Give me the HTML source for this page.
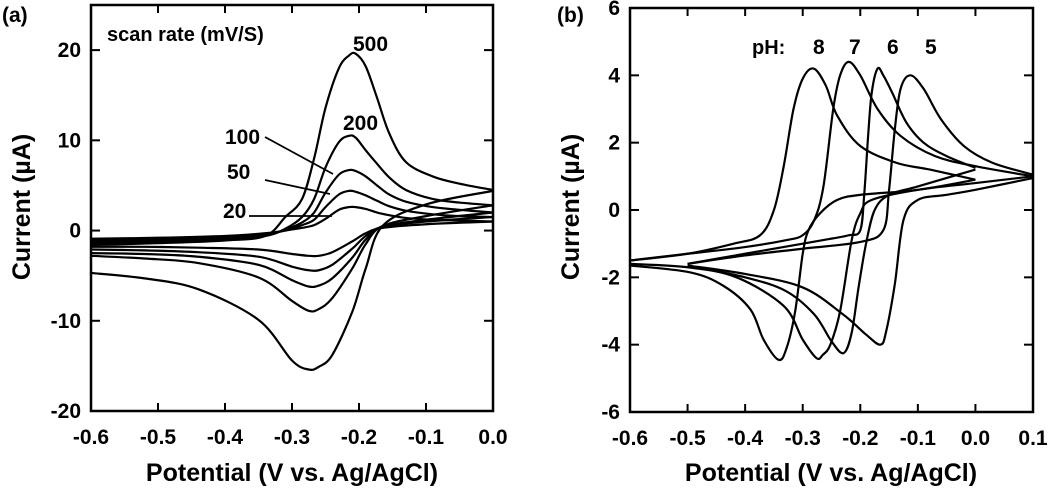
<!DOCTYPE html>
<html><head><meta charset="utf-8"><style>
html,body{margin:0;padding:0;background:#fff;}
svg{display:block;font-family:"Liberation Sans",Arial,sans-serif;font-weight:bold;}
</style></head><body>
<svg id="fig" width="1050" height="494" viewBox="0 0 1050 494" xmlns="http://www.w3.org/2000/svg"></svg>
<script>
// ---------- Panel (a) data: scan rate ----------
const rateLabels = ["500","200","100","50","20"];
const fwdE_a = [-0.6,-0.5,-0.4,-0.34,-0.31,-0.285,-0.267,-0.25,-0.23,-0.215,-0.205,-0.19,-0.173,-0.155,-0.13,-0.09,-0.05,0];
const fwd500 = [-1.6,-1.4,-1.1,-0.6,1.5,3.5,8,13.6,18,19.4,19.6,18.2,14.7,10.8,7.6,6.0,5.2,4.5];
const fwd200 = [-1.5,-1.3,-1.0,-0.6,0.2,1.5,3.5,7,9.8,10.5,10.3,8.9,7.4,5.9,4.5,3.5,3.1,2.8];
const fwd100 = [-1.3,-1.2,-0.9,-0.5,0.1,0.9,2.0,4.2,6.2,6.7,6.6,6.0,5.0,4.0,3.2,2.6,2.3,2.0];
const fwd50  = [-1.1,-1.0,-0.8,-0.4,0,0.6,1.2,2.6,4.0,4.4,4.3,3.9,3.3,2.7,2.2,1.8,1.6,1.5];
const fwd20  = [-0.9,-0.8,-0.6,-0.3,0,0.3,0.6,1.3,2.3,2.6,2.6,2.4,2.0,1.7,1.4,1.2,1.1,1.0];
const revE_a = [0,-0.1,-0.165,-0.19,-0.21,-0.24,-0.26,-0.275,-0.3,-0.35,-0.44,-0.52,-0.6];
const rev500 = [4.4,2.9,0.5,-4.2,-9,-13.8,-15.1,-15.4,-14.4,-9.9,-6.5,-5.3,-4.7];
const rev200 = [2.8,1.6,0.5,-1.5,-4.2,-7.5,-8.7,-8.9,-7.8,-5.2,-3.6,-3.1,-2.8];
const rev100 = [2.0,1.2,0.4,-1.0,-3.0,-5.3,-6.1,-6.2,-5.5,-3.8,-2.9,-2.6,-2.5];
const rev50  = [1.5,1.0,0.4,-0.6,-2.0,-3.8,-4.4,-4.4,-4.0,-2.9,-2.4,-2.2,-2.1];
const rev20  = [1.0,0.7,0.3,-0.3,-1.2,-2.4,-2.8,-2.8,-2.6,-2.1,-1.9,-1.8,-1.8];
const xTicksA = [-0.6,-0.5,-0.4,-0.3,-0.2,-0.1,0.0];
const xTickLabelsA = ["-0.6","-0.5","-0.4","-0.3","-0.2","-0.1","0.0"];
const yTicksA = [-20,-10,0,10,20];
const yTickLabelsA = ["-20","-10","0","10","20"];

// ---------- Panel (b) data: pH ----------
const phLabels = ["8","7","6","5"];
const fwdE_8 = [-0.6,-0.5,-0.42,-0.374,-0.35,-0.333,-0.316,-0.3,-0.281,-0.26,-0.24,-0.2,-0.137,-0.079,0.0];
const fwdI_8 = [-1.5,-1.3,-1.0,-0.75,0,1.3,3,3.9,4.2,3.7,2.8,1.9,1.4,1.2,0.9];
const revE_8 = [0.0,-0.1,-0.2,-0.24,-0.27,-0.29,-0.3,-0.313,-0.328,-0.342,-0.368,-0.391,-0.438,-0.496,-0.6];
const revI_8 = [0.9,0.6,0.45,0.3,-0.1,-0.6,-1.3,-3,-4.1,-4.45,-3.85,-2.95,-2.25,-1.85,-1.65];
const fwdE_7 = [-0.6,-0.5,-0.4,-0.33,-0.3,-0.28,-0.264,-0.247,-0.235,-0.22,-0.2,-0.17,-0.13,-0.07,0.0,0.1];
const fwdI_7 = [-1.5,-1.3,-1.1,-0.9,-0.75,-0.3,0.7,3.0,4.0,4.4,4.0,3.0,2.2,1.6,1.3,1.0];
const revE_7 = [0.1,0.0,-0.1,-0.18,-0.2,-0.215,-0.235,-0.252,-0.265,-0.276,-0.3,-0.333,-0.415,-0.5,-0.6];
const revI_7 = [1.0,0.8,0.6,0.3,-0.1,-0.9,-3.0,-4.0,-4.3,-4.4,-3.85,-2.85,-2.0,-1.7,-1.6];
const fwdE_6 = [-0.5,-0.4,-0.3,-0.25,-0.22,-0.2,-0.193,-0.186,-0.18,-0.17,-0.16,-0.145,-0.12,-0.09,-0.05,0.0];
const fwdI_6 = [-1.6,-1.3,-1.0,-0.85,-0.75,-0.6,0.5,2.3,3.5,4.2,4.0,3.5,2.6,2.0,1.6,1.25];
const revE_6 = [0.0,-0.1,-0.15,-0.175,-0.19,-0.203,-0.215,-0.229,-0.25,-0.28,-0.33,-0.4,-0.5];
const revI_6 = [1.2,0.7,0.45,0.0,-1.0,-2.3,-3.65,-4.25,-3.9,-3.1,-2.4,-2.0,-1.65];
const fwdE_5 = [-0.5,-0.4,-0.3,-0.2,-0.16,-0.15,-0.14,-0.13,-0.113,-0.09,-0.06,-0.02,0.03,0.1];
const fwdI_5 = [-1.6,-1.35,-1.15,-0.95,-0.6,0.6,2.4,3.6,4.0,3.6,2.7,1.9,1.4,1.05];
const revE_5 = [0.1,0.0,-0.05,-0.1,-0.125,-0.14,-0.155,-0.165,-0.19,-0.23,-0.3,-0.4,-0.5];
const revI_5 = [0.95,0.6,0.45,0.3,-0.3,-2.2,-3.6,-4.0,-3.7,-3.1,-2.3,-1.9,-1.65];
const xTicksB = [-0.6,-0.5,-0.4,-0.3,-0.2,-0.1,0.0,0.1];
const xTickLabelsB = ["-0.6","-0.5","-0.4","-0.3","-0.2","-0.1","0.0","0.1"];
const yTicksB = [-6,-4,-2,0,2,4,6];
const yTickLabelsB = ["-6","-4","-2","0","2","4","6"];

const NS = "http://www.w3.org/2000/svg";
const svg = document.getElementById("fig");
function mk(tag, attrs, parent){const e=document.createElementNS(NS,tag);for(const k in attrs)e.setAttribute(k,attrs[k]);(parent||svg).appendChild(e);return e;}
function scale(d0,d1,r0,r1){return v=>r0+(v-d0)/(d1-d0)*(r1-r0);}
function clamp(v,a,b){const lo=Math.min(a,b),hi=Math.max(a,b);return Math.max(lo,Math.min(hi,v));}
function smooth(pts){
  let d="M"+pts[0][0].toFixed(2)+","+pts[0][1].toFixed(2);
  for(let i=0;i<pts.length-1;i++){
    const p0=pts[Math.max(0,i-1)],p1=pts[i],p2=pts[i+1],p3=pts[Math.min(pts.length-1,i+2)];
    let c1=[p1[0]+(p2[0]-p0[0])/6,p1[1]+(p2[1]-p0[1])/6];
    let c2=[p2[0]-(p3[0]-p1[0])/6,p2[1]-(p3[1]-p1[1])/6];
    c1[0]=clamp(c1[0],p1[0],p2[0]);c2[0]=clamp(c2[0],p1[0],p2[0]);
    d+="C"+c1[0].toFixed(2)+","+c1[1].toFixed(2)+" "+c2[0].toFixed(2)+","+c2[1].toFixed(2)+" "+p2[0].toFixed(2)+","+p2[1].toFixed(2);
  }
  return d;
}
function axes(g,x,y,L,R,T,B,xt,xl,yt,yl){
  const fr=mk("rect",{x:L,y:T,width:R-L,height:B-T,fill:"none",stroke:"#000","stroke-width":2.5},g);
  
  
  xt.forEach((v,i)=>{
    const px=x(v);
    if(i>0&&i<xt.length-1){
      mk("line",{x1:px,y1:B,x2:px,y2:B-8,stroke:"#000","stroke-width":2},g);
      mk("line",{x1:px,y1:T,x2:px,y2:T+8,stroke:"#000","stroke-width":2},g);
    }
    const t=mk("text",{x:px,y:B+33,"text-anchor":"middle","font-size":21},g);
    
    
    t.textContent=xl[i];
  });
  yt.forEach((v,i)=>{
    const py=y(v);
    if(py>T+2&&py<B-2){
      mk("line",{x1:L,y1:py,x2:L+9,y2:py,stroke:"#000","stroke-width":2},g);
      mk("line",{x1:R,y1:py,x2:R-9,y2:py,stroke:"#000","stroke-width":2},g);
    }
    const t=mk("text",{x:L-10,y:py+7,"text-anchor":"end","font-size":21},g);
    
    
    t.textContent=yl[i];
  });
}
function label(g,txt,x0,y0,size,name,anchor){
  const t=mk("text",{x:x0,y:y0,"font-size":size,"text-anchor":anchor||"start"},g);
  
  
  t.textContent=txt;return t;
}
function curve(g,x,y,E,I,name){
  const p=mk("path",{d:smooth(E.map((e,i)=>[x(e),y(I[i])])),fill:"none",stroke:"#000","stroke-width":2.2,"stroke-linejoin":"round"},g);
  
  
}

// ---- Panel A ----
const gA=mk("g",{});


const LA=91,RA=493,TA=5,BA=411;
const xA=scale(-0.6,0,LA,RA), yA=scale(-20,25,BA,TA);
const fwdA=[fwd500,fwd200,fwd100,fwd50,fwd20], revA=[rev500,rev200,rev100,rev50,rev20];
rateLabels.forEach((r,i)=>{
  curve(gA,xA,yA,fwdE_a,fwdA[i],"cv-"+r+"-anodic");
  curve(gA,xA,yA,revE_a,revA[i],"cv-"+r+"-cathodic");
});
axes(gA,xA,yA,LA,RA,TA,BA,xTicksA,xTickLabelsA,yTicksA,yTickLabelsA);
label(gA,"(a)",2,22,21,"panel-label-a");
label(gA,"scan rate (mV/S)",107,41,20,"scan-rate-title");
label(gA,"500",353,51,21,"label-500");
label(gA,"200",343,130,21,"label-200");
label(gA,"100",225,144,21,"label-100");
label(gA,"50",227,179,21,"label-50");
label(gA,"20",223,218,21,"label-20");
[[265,137,333,174],[265,180,330,194],[249,216,332,216]].forEach(l=>{
  const ln=mk("line",{x1:l[0],y1:l[1],x2:l[2],y2:l[3],stroke:"#000","stroke-width":1.8},gA);
  
  
});
label(gA,"Potential (V vs. Ag/AgCl)",292,481,25,"x-axis-title","middle");
const ytA=label(gA,"Current (\u00b5A)",0,0,25,"y-axis-title","middle");
ytA.setAttribute("transform","translate(30,207) rotate(-90)");

// ---- Panel B ----
const gB=mk("g",{});


const LB=630,RB=1033,TB=8,BB=412;
const xB=scale(-0.6,0.1,LB,RB), yB=scale(-6,6,BB,TB);
const fE=[fwdE_8,fwdE_7,fwdE_6,fwdE_5], fI=[fwdI_8,fwdI_7,fwdI_6,fwdI_5];
const rE=[revE_8,revE_7,revE_6,revE_5], rI=[revI_8,revI_7,revI_6,revI_5];
phLabels.forEach((p,i)=>{
  curve(gB,xB,yB,fE[i],fI[i],"cv-ph"+p+"-anodic");
  curve(gB,xB,yB,rE[i],rI[i],"cv-ph"+p+"-cathodic");
});
axes(gB,xB,yB,LB,RB,TB,BB,xTicksB,xTickLabelsB,yTicksB,yTickLabelsB);
label(gB,"(b)",557,22,21,"panel-label-b");
label(gB,"pH:",752,54,20,"ph-title");
[[813,"8"],[849,"7"],[887,"6"],[925,"5"]].forEach(a=>label(gB,a[1],a[0],54,21,"label-ph"+a[1]));
label(gB,"Potential (V vs. Ag/AgCl)",831,481,25,"x-axis-title-b","middle");
const ytB=label(gB,"Current (\u00b5A)",0,0,25,"y-axis-title-b","middle");
ytB.setAttribute("transform","translate(579,207) rotate(-90)");
</script>
</body></html>
